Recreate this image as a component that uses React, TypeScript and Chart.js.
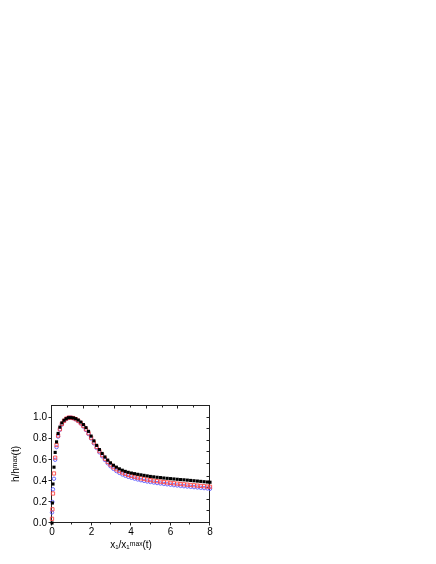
import React, { useEffect, useRef } from "react";
import { Chart, registerables } from "chart.js";
Chart.register(...registerables);

// x1 / x1max(t) sample positions shared by the three series
const xValues = [
  0, 0.02, 0.05, 0.1, 0.16, 0.23, 0.31, 0.4, 0.5, 0.61, 0.72, 0.84, 0.96, 1.08, 1.2,
  1.33, 1.46, 1.59, 1.72, 1.85, 1.98, 2.12, 2.26, 2.4, 2.54, 2.68, 2.82, 2.96, 3.11,
  3.26, 3.41, 3.56, 3.71, 3.86, 4.02, 4.18, 4.34, 4.5, 4.66, 4.82, 4.98, 5.15, 5.32,
  5.49, 5.66, 5.83, 6.0, 6.17, 6.34, 6.51, 6.68, 6.85, 7.02, 7.19, 7.36, 7.53, 7.7,
  7.87, 8.0,
];

// black filled squares
const blackY = [
  0.0, 0.19, 0.37, 0.53, 0.67, 0.77, 0.85, 0.91, 0.95, 0.975, 0.99, 1.0, 1.0, 0.997,
  0.99, 0.977, 0.958, 0.934, 0.905, 0.87, 0.825, 0.78, 0.737, 0.697, 0.66, 0.627,
  0.597, 0.571, 0.548, 0.53, 0.514, 0.501, 0.49, 0.481, 0.474, 0.468, 0.462, 0.457,
  0.452, 0.447, 0.442, 0.438, 0.434, 0.431, 0.427, 0.424, 0.421, 0.418, 0.415, 0.412,
  0.41, 0.407, 0.404, 0.401, 0.398, 0.395, 0.392, 0.389, 0.387,
];

// red open squares
const redY = [
  0.04, 0.13, 0.28, 0.47, 0.62, 0.74, 0.83, 0.89, 0.94, 0.97, 0.99, 1.0, 1.0, 0.996,
  0.986, 0.97, 0.948, 0.921, 0.889, 0.852, 0.81, 0.765, 0.722, 0.682, 0.645, 0.611,
  0.581, 0.554, 0.53, 0.51, 0.493, 0.479, 0.467, 0.456, 0.447, 0.439, 0.431, 0.424,
  0.418, 0.412, 0.407, 0.402, 0.397, 0.393, 0.389, 0.385, 0.381, 0.377, 0.374, 0.37,
  0.367, 0.364, 0.361, 0.358, 0.355, 0.352, 0.349, 0.346, 0.344,
];

// blue open circles
const blueY = [
  0.1, 0.2, 0.32, 0.42, 0.6, 0.72, 0.82, 0.885, 0.935, 0.968, 0.988, 0.999, 1.0, 0.995,
  0.984, 0.967, 0.944, 0.916, 0.883, 0.845, 0.802, 0.756, 0.712, 0.671, 0.633, 0.598,
  0.567, 0.539, 0.514, 0.493, 0.476, 0.461, 0.449, 0.438, 0.429, 0.421, 0.413, 0.406,
  0.4, 0.394, 0.389, 0.384, 0.379, 0.375, 0.371, 0.367, 0.363, 0.359, 0.356, 0.352,
  0.349, 0.346, 0.343, 0.34, 0.337, 0.334, 0.331, 0.328, 0.325,
];

const xTickValues = [0, 2, 4, 6, 8];
const xMinorTicks = [1, 3, 5, 7];
const yTickValues = [0, 0.2, 0.4, 0.6, 0.8, 1.0];
const topMajorTicks = [1.6, 3.2, 4.8, 6.4];
const topMinorTicks = [0.8, 2.4, 4.0, 5.6, 7.2];
const rightTicks = [0.11, 0.22, 0.33, 0.44, 0.56, 0.67, 0.78, 0.89, 1.0];

const FONT = "'Liberation Sans', Arial, Helvetica, sans-serif";

const framePlugin = {
  id: "frame",
  beforeDatasetsDraw(chart: any) {
    const { ctx, chartArea, scales } = chart;
    const { left, right, top, bottom } = chartArea;
    const sx = scales.x;
    const sy = scales.y;
    const L = Math.round(left) - 0.5;
    const R = Math.round(right) - 0.5;
    const T = Math.round(top) + 0.5;
    const B = Math.round(bottom) - 0.5;
    ctx.save();
    ctx.strokeStyle = "#222";
    ctx.lineWidth = 1;
    ctx.strokeRect(L, T, R - L, B - T);
    const seg = (x1: number, y1: number, x2: number, y2: number) => {
      ctx.beginPath();
      ctx.moveTo(x1, y1);
      ctx.lineTo(x2, y2);
      ctx.stroke();
    };
    const px = (v: number) => Math.round(sx.getPixelForValue(v)) - 0.5;
    const py = (v: number) => Math.round(sy.getPixelForValue(v)) - 0.5;
    xTickValues.forEach((v) => seg(px(v), B, px(v), B + 3));
    xMinorTicks.forEach((v) => seg(px(v), B, px(v), B + 2));
    yTickValues.forEach((v) => seg(L - 3, py(v), L, py(v)));
    topMajorTicks.forEach((v) => seg(px(v), T, px(v), T + 3));
    topMinorTicks.forEach((v) => seg(px(v), T, px(v), T + 2));
    rightTicks.forEach((v) => seg(R - 3, py(v), R, py(v)));
    ctx.restore();
  },
};

const makePoints = (ys: number[]) => xValues.map((x, i) => ({ x, y: ys[i] }));

export default function App() {
  const canvasRef = useRef<HTMLCanvasElement | null>(null);

  useEffect(() => {
    if (!canvasRef.current) return;
    const chart = new Chart(canvasRef.current, {
      type: "scatter",
      data: {
        datasets: [
          {
            label: "black",
            data: makePoints(blackY),
            pointStyle: "rect",
            pointRadius: 2.2,
            pointBackgroundColor: "#000",
            pointBorderColor: "#000",
            pointBorderWidth: 0,
            showLine: false,
            clip: false as any,
          },
          {
            label: "red",
            data: makePoints(redY),
            pointStyle: "rect",
            pointRadius: 2.3,
            pointBackgroundColor: "rgba(0,0,0,0)",
            pointBorderColor: "rgb(250,70,70)",
            pointBorderWidth: 0.9,
            showLine: false,
            clip: false as any,
          },
          {
            label: "blue",
            data: makePoints(blueY),
            pointStyle: "circle",
            pointRadius: 1.7,
            pointBackgroundColor: "rgba(0,0,0,0)",
            pointBorderColor: "rgb(90,90,255)",
            pointBorderWidth: 0.9,
            showLine: false,
            clip: false as any,
          },
        ],
      },
      options: {
        animation: false,
        responsive: true,
        maintainAspectRatio: false,
        layout: { padding: { left: 10, top: 405, right: 226, bottom: 13 } },
        plugins: { legend: { display: false }, tooltip: { enabled: false } },
        scales: {
          x: {
            type: "linear",
            min: 0,
            max: 8,
            grid: { display: false, drawTicks: false },
            border: { display: false },
            afterBuildTicks: (s: any) => {
              s.ticks = xTickValues.map((v) => ({ value: v }));
            },
            afterFit: (s: any) => {
              s.height = 28;
            },
            ticks: {
              color: "#000",
              font: { family: FONT, size: 10 },
              padding: 3,
              maxRotation: 0,
              callback: (v: any) => String(v),
            },
            title: {
              display: true,
              text: "x₁/x₁ᵐᵃˣ(t)",
              color: "#000",
              font: { family: FONT, size: 10 },
              padding: 0,
            },
          },
          y: {
            type: "linear",
            min: 0,
            max: 1.12,
            grid: { display: false, drawTicks: false },
            border: { display: false },
            afterBuildTicks: (s: any) => {
              s.ticks = yTickValues.map((v) => ({ value: v }));
            },
            afterFit: (s: any) => {
              s.width = 42;
            },
            ticks: {
              color: "#000",
              font: { family: FONT, size: 10 },
              padding: 5,
              callback: (v: any) => Number(v).toFixed(1),
            },
            title: {
              display: true,
              text: "h/hᵐᵃˣ(t)",
              color: "#000",
              font: { family: FONT, size: 10 },
              padding: 0,
            },
          },
        },
      },
      plugins: [framePlugin],
    });
    return () => chart.destroy();
  }, []);

  return (
    <div style={{ position: "absolute", left: 0, top: 0, width: 436, height: 564 }}>
      <canvas ref={canvasRef} />
    </div>
  );
}
